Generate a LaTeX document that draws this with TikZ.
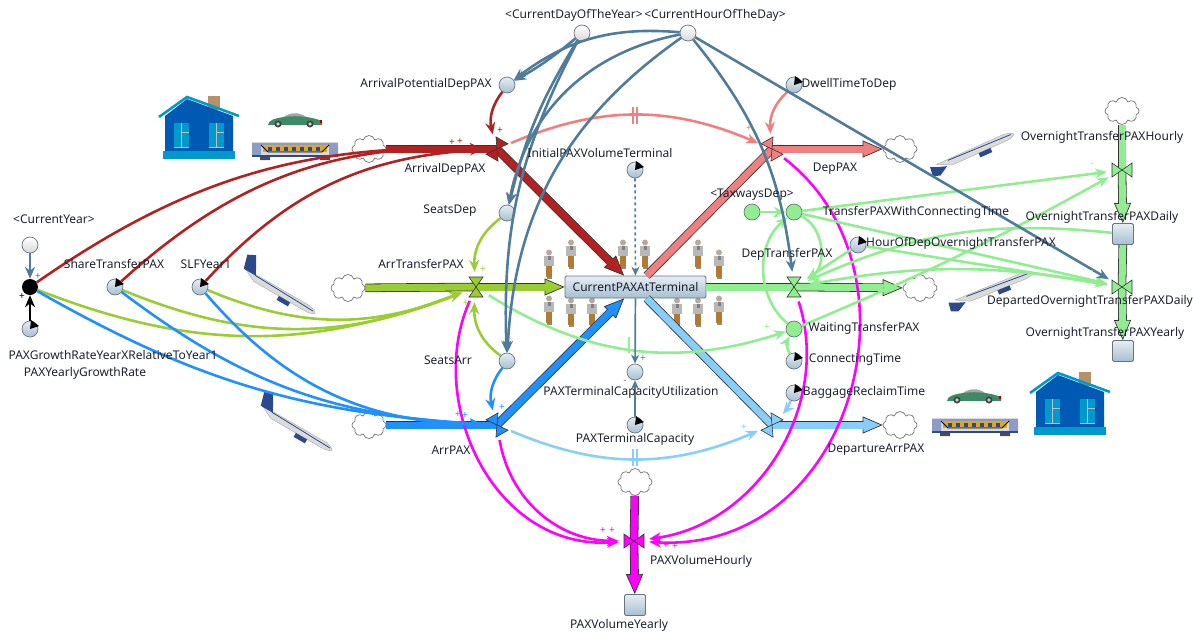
\documentclass[tikz,border=0pt]{standalone}
\usepackage{fontspec}
\setmainfont{Noto Sans}
\usetikzlibrary{arrows.meta, shapes.symbols, calc}

\definecolor{steel}{HTML}{4F7C9A}
\definecolor{darkred}{HTML}{B22222}
\definecolor{salmonred}{HTML}{F08080}
\definecolor{leaf}{HTML}{9ACD32}
\definecolor{skyblue}{HTML}{1E90FF}
\definecolor{paleblue}{HTML}{87CEFA}
\definecolor{palegreen}{HTML}{90EE90}
\definecolor{hotpink}{HTML}{FF00FF}
\definecolor{flowedge}{HTML}{333333}
\definecolor{labelink}{HTML}{1C2130}
\definecolor{shadeA}{HTML}{E6EDF3}
\definecolor{shadeB}{HTML}{A6BFD2}
\definecolor{rimgray}{HTML}{69747E}
\definecolor{housebody}{HTML}{0059B3}
\definecolor{housetrim}{HTML}{0099CC}
\definecolor{housebrick}{HTML}{B98F66}
\definecolor{carbody}{HTML}{3E8A66}
\definecolor{trainband}{HTML}{E0A820}
\definecolor{trainbody}{HTML}{8C9CC8}
\definecolor{legbrown}{HTML}{B07A30}
\definecolor{planeblue}{HTML}{2B4A8C}

\newcommand{\planehull}{
  \filldraw[fill=black!14, draw=black!35, line width=.4pt] (-42,-3) -- (32,-3) .. controls (38,-2) and (41,0) .. (41,1) .. controls (40,3) and (34,4) .. (30,4) -- (-28,4) -- cycle;
  \draw[planeblue, line width=.8pt] (-30,-2) -- (38,0);
  \fill[planeblue] (1,4) rectangle (14,8.5);
}

\tikzset{
  varcircle/.style={circle, draw=rimgray, line width=.7pt, inner sep=0pt, minimum size=16pt, top color=shadeA, bottom color=shadeB},
  dimcircle/.style={varcircle, top color=white, bottom color=black!15},
  greencircle/.style={circle, draw=rimgray, line width=.7pt, inner sep=0pt, minimum size=16pt, fill=palegreen},
  blackdot/.style={circle, fill=black, inner sep=0pt, minimum size=16pt},
  stockbox/.style={rectangle, rounded corners=1.5pt, draw=rimgray, line width=.8pt, inner sep=0pt, top color=shadeA, bottom color=shadeB},
  cloudnode/.style={cloud, cloud puffs=8, aspect=1.25, draw=black!55, fill=white, line width=.7pt, inner sep=0pt, minimum width=34pt, minimum height=27pt},
  valvenode/.style={circle, inner sep=0pt, minimum size=30pt},
  varlabel/.style={text=labelink, font=\fontsize{12}{13}\selectfont, inner sep=0pt},
  polarity/.style={font=\fontsize{10}{10}\selectfont, inner sep=0pt},
  infl/.style={draw=#1, line width=2.6pt, -{Stealth[length=12pt,width=10pt]}},
  thinlink/.style={steel, line width=1.7pt, -{Stealth[length=9pt,width=8pt]}},
  flowpipe/.style={draw=flowedge, line width=8.6pt, postaction={draw=#1, line width=7pt}},
  flowtip/.style={draw=flowedge, line width=8.6pt, -{Triangle[length=20pt,width=17pt,line width=.7pt,fill=#1]},
    postaction={draw=#1, line width=7pt, arrows=-, shorten >=19pt}},
  delaymark/.style={draw=#1, line width=1.4pt},
  person/.pic={
    \fill[black!45] (-2.5,15) rectangle (3,16.5);
    \fill[legbrown] (-3,3) rectangle (3,15);
    \fill[black!28] (-5,-6) rectangle (5,4);
    \fill[black!50] (-1.5,-6) rectangle (1.5,-2);
    \fill[brown!50!black!45] (0,-9.5) circle (3);
  },
  plane/.pic={
    \planehull
    \fill[planeblue] (-43,-2) -- (-47,-16) -- (-39,-20) -- (-29,-2) -- cycle;
  },
  planeclimb/.pic={
    \planehull
    \fill[planeblue] (-42,0) -- (-49,-3) -- (-50,6) -- (-43,9) -- (-33,3) -- cycle;
  },
  car/.pic={
    \fill[black!35] (16,5) .. controls (22,0) and (32,0) .. (38,5) -- cycle;
    \fill[carbody] (0,13) .. controls (0,8) and (8,6) .. (16,5) .. controls (30,3) and (44,5) .. (54,9) -- (54,13) -- cycle;
    \fill[black!75] (10,12) circle (3.5) (42,12) circle (3.5);
    \fill[black!20] (10,12) circle (1.8) (42,12) circle (1.8);
    \fill[red!70!black] (52,8) rectangle (54,11);
  },
  train/.pic={
    \fill[black!15] (0,0) rectangle (86,15);
    \fill[trainbody] (0,1) rectangle (86,3);
    \fill[trainbody] (0,3) rectangle (9,13) (77,3) rectangle (86,13);
    \fill[trainband] (11,3) rectangle (75,10);
    \draw[black, line width=.9pt] (9,3) -- (16,10) -- (70,10) -- (77,3);
    \foreach \win in {16,24,...,64} \fill[planeblue] (\win,5) rectangle +(4,4);
    \fill[planeblue] (0,13) rectangle (86,15);
    \fill[black!70] (8,15) rectangle (18,18) (68,15) rectangle (78,18);
  },
  house/.pic={
    \fill[housebrick] (49,0) rectangle (61,14);
    \fill[housebody] (6,20) -- (28,3) -- (74,20) -- (74,58) -- (6,58) -- cycle;
    \draw[housetrim, line width=2.6pt] (0,21) -- (28,1) -- (80,20);
    \fill[housetrim] (4,55) rectangle (76,63);
    \foreach \wx in {15,50} {
      \fill[housetrim] (\wx,27) rectangle +(15,25);
      \draw[black!25, line width=.8pt] (\wx+7,27) -- +(0,25) (\wx+7,36) -- +(8,0) (\wx,51) -- +(15,0);
    }
  },
}

\begin{document}
\begin{tikzpicture}[x=1pt, y=-1pt]
  \useasboundingbox (0,0) rectangle (1193,635);

  % Pictures behind the diagram
  \pic at (159,96) {house};
  \pic at (1030,372) {house};
  \pic at (268,112) {car};
  \pic at (947,388) {car};
  \pic at (252,142) {train};
  \pic at (932,418) {train};
  \pic[rotate=-30] at (280,292) {plane};
  \pic[rotate=-30] at (297,429) {plane};
  \pic[rotate=24] at (976,150) {planeclimb};
  \pic[rotate=22] at (995,287) {planeclimb};
  \foreach \px/\py in {549/262, 571/252, 623/252, 645/252, 698/252, 719/262,
                       549/308, 571/310, 592/310, 677/310, 698/310, 719/308} {
    \pic at (\px,\py) {person};
  }

  % Clouds
  \foreach \name/\x/\y in {cloudArrivalDep/369/149, cloudArrTransfer/348/288, cloudArr/369/425,
                           cloudDep/900/149, cloudDepTransfer/920/288, cloudDepartureArr/900/425,
                           cloudVolume/635/482, cloudOvernight/1122/111} {
    \node[cloudnode] (\name) at (\x,\y) {};
  }

  % Stocks
  \node[stockbox, minimum width=141pt, minimum height=22pt] (terminal) at (635.5,287) {};
  \node[stockbox, minimum size=21pt] (overnightDaily) at (1123,234) {};
  \node[stockbox, minimum size=21pt] (overnightYearly) at (1123,351) {};
  \node[stockbox, minimum size=21pt] (volumeYearly) at (635,605) {};

  % Valves
  \foreach \name/\x/\y in {valveArrivalDep/497/149, valveDep/772/149, valveArrTransfer/476/287,
      valveDepTransfer/794/287, valveArr/497/425, valveDepartureArr/772/425,
      valveVolume/634/541, valveOvernight/1122/170, valveDeparted/1122/287} {
    \node[valvenode] (\name) at (\x,\y) {};
  }

  % Variables
  \node[dimcircle] (currentYear) at (30,245) {};
  \node[blackdot] (yearlyGrowth) at (30,287) {};
  \node[varcircle] (growthYearX) at (30,329) {};
  \node[varcircle] (shareTransfer) at (115,287) {};
  \node[varcircle] (slfYear) at (200,287) {};
  \node[varcircle] (arrivalPotential) at (507,85) {};
  \node[varcircle] (seatsDep) at (507,213) {};
  \node[varcircle] (seatsArr) at (507,361) {};
  \node[dimcircle] (currentDay) at (582,33) {};
  \node[dimcircle] (currentHour) at (688,33) {};
  \node[varcircle] (dwellTime) at (794,85) {};
  \node[varcircle] (initialVolume) at (635,170) {};
  \node[varcircle] (utilization) at (635,372) {};
  \node[varcircle] (capacity) at (635,425) {};
  \node[greencircle] (taxwaysDep) at (752,212) {};
  \node[greencircle] (transferConnecting) at (794,212) {};
  \node[varcircle] (hourOvernight) at (858,245) {};
  \node[greencircle] (waitingTransfer) at (794,329) {};
  \node[varcircle] (connectingTime) at (794,361) {};
  \node[varcircle] (baggageTime) at (794,393) {};

  % Dials
  \foreach \dial in {growthYearX, shareTransfer, slfYear, dwellTime, initialVolume, capacity,
                     hourOvernight, connectingTime, baggageTime} {
    \fill[black] (\dial.center) -- ($(\dial.center)+(1,-9)$) -- ($(\dial.center)+(9,-3)$) -- cycle;
  }

  % Flows
  \draw[flowpipe=darkred] (cloudArrivalDep) -- (valveArrivalDep.center);
  \draw[flowtip=darkred] (valveArrivalDep.center) -- (terminal);
  \draw[flowpipe=salmonred] (terminal) -- (valveDep.center);
  \draw[flowtip=salmonred] (valveDep.center) -- (cloudDep);
  \draw[flowpipe=leaf] (cloudArrTransfer) -- (valveArrTransfer.center);
  \draw[flowtip=leaf] (valveArrTransfer.center) -- (terminal);
  \draw[flowpipe=palegreen] (terminal) -- (valveDepTransfer.center);
  \draw[flowtip=palegreen] (valveDepTransfer.center) -- (cloudDepTransfer);
  \draw[flowpipe=skyblue] (cloudArr) -- (valveArr.center);
  \draw[flowtip=skyblue] (valveArr.center) -- (terminal);
  \draw[flowpipe=paleblue] (terminal) -- (valveDepartureArr.center);
  \draw[flowtip=paleblue] (valveDepartureArr.center) -- (cloudDepartureArr);
  \draw[flowpipe=hotpink] (cloudVolume) -- (valveVolume.center);
  \draw[flowtip=hotpink] (valveVolume.center) -- (volumeYearly);
  \draw[flowpipe=palegreen] (cloudOvernight) -- (valveOvernight.center);
  \draw[flowtip=palegreen] (valveOvernight.center) -- (overnightDaily);
  \draw[flowpipe=palegreen] (overnightDaily) -- (valveDeparted.center);
  \draw[flowtip=palegreen] (valveDeparted.center) -- (overnightYearly);

  % Valve bow ties
  \foreach \name/\col/\ang in {valveArrivalDep/darkred/60, valveDep/salmonred/120,
      valveArrTransfer/leaf/90, valveDepTransfer/palegreen/90,
      valveArr/skyblue/120, valveDepartureArr/paleblue/60,
      valveVolume/hotpink/0, valveOvernight/palegreen/0, valveDeparted/palegreen/0} {
    \begin{scope}[shift={(\name.center)}, rotate=\ang]
      \filldraw[fill=\col, draw=flowedge, line width=.6pt] (0,0) -- (10,-7) -- (10,7) -- cycle;
      \filldraw[fill=\col, draw=flowedge, line width=.6pt] (0,0) -- (-10,-7) -- (-10,7) -- cycle;
    \end{scope}
  }

  % Magenta links
  \draw[infl=hotpink] (valveDep) .. controls (930,270) and (854,554) .. (valveVolume);
  \draw[infl=hotpink] (valveDepTransfer) to[bend left=50] (valveVolume);
  \draw[infl=hotpink] (valveArrTransfer) .. controls (425,400) and (492,550) .. (valveVolume);
  \draw[infl=hotpink] (valveArr) to[bend right=40] (valveVolume);

  % Links into the arrival flows
  \draw[infl=darkred] (yearlyGrowth) to[bend left=18] (valveArrivalDep);
  \draw[infl=darkred] (shareTransfer) to[bend left=22] (valveArrivalDep);
  \draw[infl=darkred] (slfYear) to[bend left=22] (valveArrivalDep);
  \draw[infl=darkred] (arrivalPotential) to[bend right=25] (valveArrivalDep);
  \draw[infl=leaf] (yearlyGrowth) to[bend right=21] (valveArrTransfer);
  \draw[infl=leaf] (shareTransfer) to[bend right=22] (valveArrTransfer);
  \draw[infl=leaf] (slfYear) to[bend right=22] (valveArrTransfer);
  \draw[infl=leaf] (seatsDep) to[bend right=28] (valveArrTransfer);
  \draw[infl=leaf] (seatsArr) to[bend left=28] (valveArrTransfer);
  \draw[infl=skyblue] (yearlyGrowth) to[bend right=13] (valveArr);
  \draw[infl=skyblue] (shareTransfer) to[bend right=17] (valveArr);
  \draw[infl=skyblue] (slfYear) to[bend right=24] (valveArr);
  \draw[infl=skyblue] (seatsArr) to[bend right=25] (valveArr);

  % Links into the departure flows
  \draw[infl=salmonred] (valveArrivalDep) to[bend left=23] (valveDep);
  \draw[infl=salmonred] (dwellTime) to[bend right=25] (valveDep);
  \draw[infl=paleblue] (valveArr) to[bend right=23] (valveDepartureArr);
  \draw[infl=paleblue] (baggageTime) to[bend left=10] (valveDepartureArr);

  % Light green links
  \draw[infl=palegreen] (valveArrTransfer) to[bend right=25] (waitingTransfer);
  \draw[infl=palegreen] (connectingTime) to[bend left=30] (waitingTransfer);
  \draw[infl=palegreen] (taxwaysDep) -- (transferConnecting);
  \draw[infl=palegreen] (transferConnecting) to[bend left=60] (valveDepTransfer);
  \draw[infl=palegreen] (waitingTransfer) to[bend left=50] (transferConnecting);
  \draw[infl=palegreen] (waitingTransfer) to[bend right=3] (valveOvernight);
  \draw[infl=palegreen] (transferConnecting) -- (valveOvernight);
  \draw[infl=palegreen] (transferConnecting) -- (valveDeparted);
  \draw[infl=palegreen] (hourOvernight) -- (valveDeparted);
  \draw[infl=palegreen] (hourOvernight) -- (valveDepTransfer);
  \draw[infl=palegreen] (overnightDaily) to[bend right=15] (valveDepTransfer);
  \draw[infl=palegreen] (valveDeparted) to[bend right=10] (valveDepTransfer);

  % Steel links
  \draw[infl=steel] (currentDay) to[bend left=5] (arrivalPotential);
  \draw[infl=steel] (currentHour) to[bend right=21] (arrivalPotential);
  \draw[infl=steel] (currentDay) to[bend right=9] (seatsDep);
  \draw[infl=steel] (currentHour) to[bend right=34] (seatsDep);
  \draw[infl=steel] (currentDay) to[bend right=15] (seatsArr);
  \draw[infl=steel] (currentHour) to[bend right=26] (seatsArr);
  \draw[infl=steel] (currentHour) to[bend left=16] (valveDepTransfer);
  \draw[infl=steel] (currentHour) -- (valveDeparted);
  \draw[infl=steel] (currentYear) -- (yearlyGrowth);
  \draw[infl=black] (growthYearX) -- (yearlyGrowth);
  \draw[thinlink, dashed] (initialVolume) -- (terminal);
  \draw[thinlink] (terminal) -- (utilization);
  \draw[thinlink] (capacity) -- (utilization);

  % Delay marks
  \foreach \x in {633,637} {
    \draw[delaymark=salmonred] (\x,107) -- (\x,124);
    \draw[delaymark=paleblue] (\x,449) -- (\x,466);
  }
  \draw[delaymark=palegreen] (629,337) -- (629,353);

  % Labels
  \foreach \name/\x/\y/\txt in {
      lblCurrentYear/54/219/{<CurrentYear>}, lblGrowthYearX/113/355/PAXGrowthRateYearXRelativeToYear1,
      lblYearlyGrowth/85/373/PAXYearlyGrowthRate, lblShare/114/264/ShareTransferPAX, lblSlf/206/264/SLFYear1,
      lblPotential/426/84/ArrivalPotentialDepPAX, lblSeatsDep/450/211/SeatsDep, lblSeatsArr/448/360/SeatsArr,
      lblDay/574/15/{<CurrentDayOfTheYear>}, lblHour/715/15/{<CurrentHourOfTheDay>},
      lblDwell/849/84/DwellTimeToDep, lblInitial/600/153/InitialPAXVolumeTerminal,
      lblTaxways/752/195/{<TaxwaysDep>}, lblTransfer/916/212/TransferPAXWithConnectingTime,
      lblHourOvernight/961/243/HourOfDepOvernightTransferPAX, lblDepTransfer/787/254/DepTransferPAX,
      lblWaiting/864/328/WaitingTransferPAX, lblConnecting/855/360/ConnectingTime,
      lblBaggage/864/392/BaggageReclaimTime, lblUtilization/631/392/PAXTerminalCapacityUtilization,
      lblCapacity/635/439/PAXTerminalCapacity, lblHourly/1102/137/OvernightTransferPAXHourly,
      lblDaily/1102/217/OvernightTransferPAXDaily, lblDeparted/1090/301/DepartedOvernightTransferPAXDaily,
      lblYearly/1105/333/OvernightTransferPAXYearly, lblVolumeHourly/701/561/PAXVolumeHourly,
      lblVolumeYearly/619/625/PAXVolumeYearly, lblArr/451/450/ArrPAX, lblDeparture/876/450/DepartureArrPAX,
      lblArrival/445/169/ArrivalDepPAX, lblDep/835/169/DepPAX, lblArrTransfer/421/264/ArrTransferPAX} {
    \node[varlabel] (\name) at (\x,\y) {\txt};
  }
  \node[varlabel] (lblTerminal) at (terminal) {CurrentPAXAtTerminal};

  % Polarity signs
  \foreach \x/\y/\col/\sign in {38/277/steel/+, 22/297/black/+, 452/143/darkred/+, 460/142/darkred/+,
      500/131/darkred/+, 483/270/leaf/+, 466/304/leaf/+, 458/415/skyblue/+, 465/416/skyblue/+,
      502/408/skyblue/+, 749/129/salmonred/+, 744/428/paleblue/+, 643/359/steel/+, 625/382/steel/-,
      603/531/hotpink/+, 612/531/hotpink/+, 666/546/hotpink/+, 675/547/hotpink/+, 776/218/palegreen/+,
      767/328/palegreen/+, 1092/165/palegreen/-, 1092/272/palegreen/-} {
    \node[polarity, text=\col] (sign\x-\y) at (\x,\y) {\sign};
  }
\end{tikzpicture}
\end{document}
